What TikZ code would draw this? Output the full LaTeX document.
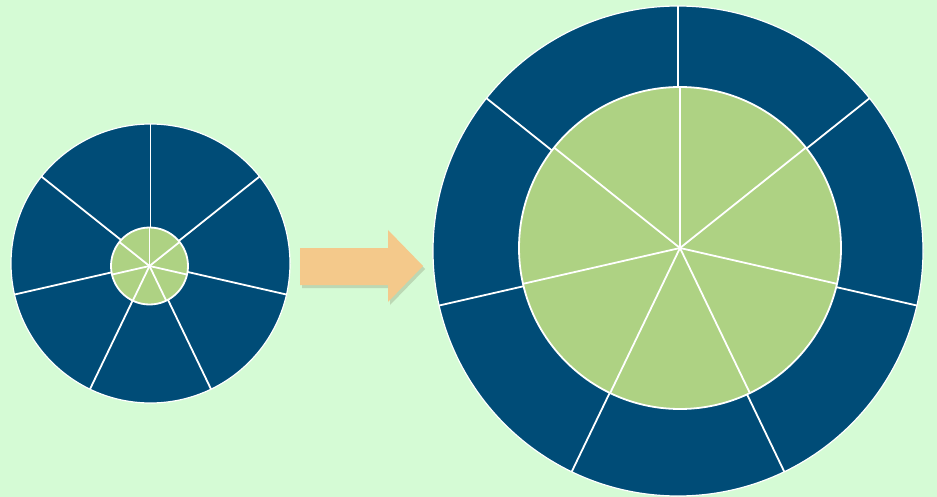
\documentclass[tikz,border=0pt]{standalone}
\definecolor{bgc}{HTML}{D5FBD5}
\definecolor{blu}{HTML}{004C77}
\definecolor{grn}{HTML}{AED283}
\definecolor{arr}{HTML}{F4C98B}
\definecolor{shd}{HTML}{BCD8B4}
\tikzset{
  seg/.style={white,line width=1.8pt},
  innerdisk/.style={fill=grn,draw=white,line width=1.8pt}
}
\begin{document}
\begin{tikzpicture}[x=1pt,y=-1pt]
\fill[bgc] (0,0) rectangle (937,497);
\useasboundingbox (0,0) rectangle (937,497);
% left wheel
\coordinate (lo) at (150.5,263.5);
\coordinate (li) at (149.5,266);
\fill[blu] (lo) circle[radius=139.5];
\foreach \a in {0,...,6}{\draw[seg] (lo) -- ++({-90+\a*360/7}:139.5);}
\draw[white,line width=1.2pt] (lo) circle[radius=139.5];
\draw[innerdisk] (li) circle[radius=38.5];
\foreach \a in {0,...,6}{\draw[seg] (li) -- ++({-90+\a*360/7}:38.5);}
% right wheel
\coordinate (ro) at (678,251);
\coordinate (ri) at (680,248);
\fill[blu] (ro) circle[radius=245];
\foreach \a in {0,...,6}{\draw[seg] (ro) -- ++({-90+\a*360/7}:245);}
\draw[white,line width=1.2pt] (ro) circle[radius=245];
\draw[innerdisk] (ri) circle[radius=161];
\foreach \a in {0,...,6}{\draw[seg] (ri) -- ++({-90+\a*360/7}:161);}
% arrow shadow and arrow
\fill[shd] (302,251) -- (390,251) -- (390,233) -- (425,269) -- (390,305) -- (390,288) -- (302,288) -- cycle;
\fill[arr] (300,248) -- (388,248) -- (388,230) -- (423,266) -- (388,302) -- (388,285) -- (300,285) -- cycle;
\end{tikzpicture}
\end{document}
